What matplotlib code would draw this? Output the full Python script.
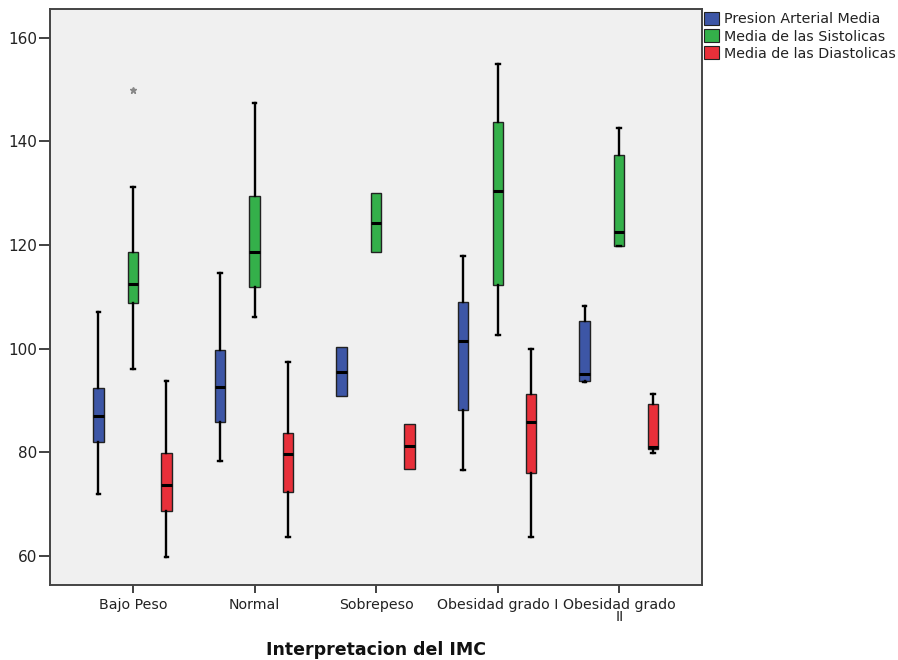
import numpy as np
import matplotlib.pyplot as plt

# Data
categories = ["Bajo Peso", "Normal", "Sobrepeso", "Obesidad grado I", "Obesidad grado\nII"]
series = ["Presion Arterial Media", "Media de las Sistolicas", "Media de las Diastolicas"]
colors = ["#3d56a6", "#34b04a", "#e8303a"]

# whislo, q1, median, q3, whishi for each category
pam = [[72.0, 82.0, 87.1, 92.5, 107.1],
       [78.3, 85.9, 92.7, 99.8, 114.6],
       [90.8, 90.8, 95.6, 100.4, 100.4],
       [76.6, 88.2, 101.4, 109.1, 117.9],
       [93.6, 93.8, 95.1, 105.4, 108.3]]
sis = [[96.1, 108.8, 112.5, 118.6, 131.2],
       [106.2, 111.9, 118.7, 129.4, 147.5],
       [118.7, 118.7, 124.3, 130.0, 130.0],
       [102.7, 112.3, 130.5, 143.7, 155.0],
       [119.9, 119.9, 122.5, 137.4, 142.6]]
dia = [[59.9, 68.6, 73.7, 79.9, 93.7],
       [63.6, 72.4, 79.7, 83.7, 97.4],
       [76.7, 76.7, 81.2, 85.5, 85.5],
       [63.6, 76.1, 85.8, 91.2, 99.9],
       [79.9, 80.6, 81.1, 89.3, 91.2]]
sis_outliers = [[150.0], [], [], [], []]

allstats = [pam, sis, dia]
fliers = [[[], [], [], [], []], sis_outliers, [[], [], [], [], []]]

fig = plt.figure(figsize=(8.98, 6.6), dpi=100)
ax = fig.add_axes([0.0557, 0.1136, 0.726, 0.873])
ax.set_facecolor("#f0f0f0")

offsets = [-0.285, 0.0, 0.275]
pos = np.arange(len(categories))
for s, (st, fl, col, off) in enumerate(zip(allstats, fliers, colors, offsets)):
    stats = []
    for i, v in enumerate(st):
        stats.append(dict(whislo=v[0], q1=v[1], med=v[2], q3=v[3], whishi=v[4], fliers=fl[i]))
    # no caps where the whisker collapses onto the box
    caps = 0.03
    ax.bxp(stats, positions=pos + off, widths=0.085, patch_artist=True,
           manage_ticks=False,
           boxprops=dict(facecolor=col, edgecolor="#222222", linewidth=1.0),
           medianprops=dict(color="black", linewidth=2.2),
           whiskerprops=dict(color="black", linewidth=1.7),
           capprops=dict(color="black", linewidth=1.7),
           capwidths=[caps if (v[0] < v[1] or v[4] > v[3]) else 0.0 for v in st],
           flierprops=dict(marker="*", markersize=5, markerfacecolor="#888888",
                           markeredgecolor="#888888"))

ax.set_xlim(-0.683, 4.68)
ax.set_ylim(54.4, 165.6)
ax.set_yticks([60, 80, 100, 120, 140, 160])
ax.set_xticks(pos)
ax.set_xticklabels(categories, fontsize=10.2, linespacing=0.9)
ax.tick_params(axis="y", labelsize=11, length=8, width=1.3, color="#333333", pad=1, labelcolor="#222222")
ax.tick_params(axis="x", length=6, width=1.3, color="#333333", pad=3, labelcolor="#222222")
for sp in ax.spines.values():
    sp.set_color("#444444")
    sp.set_linewidth(1.4)

fig.text(0.419, 1 - 650 / 660, "Interpretacion del IMC", fontsize=12.5, fontweight="bold",
         ha="center", va="center", color="#111111")

handles = [plt.Rectangle((0, 0), 1, 1, facecolor=c, edgecolor="#222222", linewidth=0.8) for c in colors]
fig.legend(handles, series, loc="upper left", bbox_to_anchor=(0.781, 0.986),
           frameon=False, fontsize=10.3, handlelength=1.0, handleheight=1.0,
           handletextpad=0.4, labelspacing=0.2, borderaxespad=0, borderpad=0.2,
           labelcolor="#222222")

fig.savefig("out.png", dpi=100)
